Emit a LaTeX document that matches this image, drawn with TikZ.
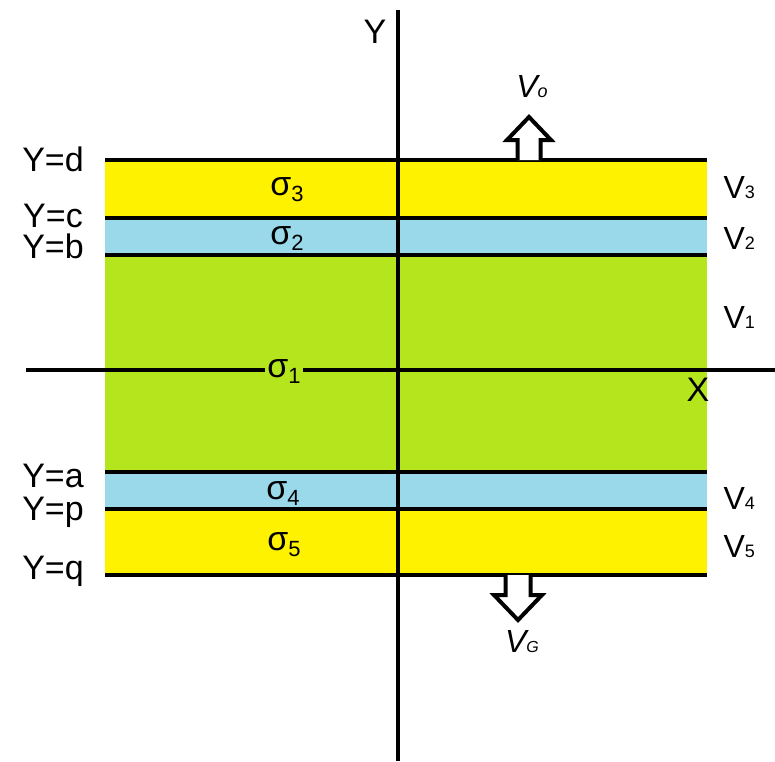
\documentclass[tikz,border=0pt]{standalone}
\usepackage{fontspec}
\setmainfont{Liberation Sans}
\usetikzlibrary{calc}
\definecolor{layyellow}{RGB}{255,242,0}
\definecolor{layblue}{RGB}{153,217,234}
\definecolor{laygreen}{RGB}{181,230,29}
\newcommand{\lowsub}[2]{#1\raisebox{-6pt}{\fontsize{22}{22}\selectfont #2}}
\newcommand{\vsub}[1]{V{\fontsize{18}{18}\selectfont #1}}

\begin{document}
\begin{tikzpicture}[x=1pt, y=-1pt,
    bound/.style={line width=4.5pt},
    axis/.style={line width=4.5pt},
    ylab/.style={font=\fontsize{34}{34}\selectfont, inner sep=1pt},
    sig/.style={font=\fontsize{34}{34}\selectfont, inner sep=2pt},
    vlab/.style={font=\fontsize{32}{32}\selectfont, anchor=west},
    blockarrow/.style={line width=4pt, fill=white, line join=miter}]
    \useasboundingbox (0,0) rectangle (775,761);

    % Layers
    \foreach \t/\b/\c in {160/218/layyellow, 218/255/layblue, 255/472/laygreen,
                          472/509/layblue, 509/575/layyellow} {
      \fill[\c] (105,\t) rectangle (707,\b);
    }
    % Boundaries
    \foreach \y in {160, 218, 255, 472, 509, 575} {
      \draw[bound] (105,\y) -- (707,\y);
    }

    % Axes
    \coordinate (xs) at (26,370);
    \coordinate (xe) at (775,370);
    \coordinate (ys) at (398,10);
    \coordinate (ye) at (398,761);
    \draw[axis] (xs) -- (xe);
    \draw[axis] (ys) -- (ye);
    \node[ylab] (ylabel) at (375,32) {Y};
    \node[ylab] (xlabel) at (698,390) {X};

    % Boundary labels
    \foreach \y/\lab in {159/d, 216/c, 246/b, 476/a, 512/p, 571/q} {
      \node[ylab] (y\lab) at (53,\y) {Y=\lab};
    }

    % Conductivities
    \node[sig] (s3) at (287,190) {\lowsub{σ}{3}};
    \node[sig] (s2) at (287,239) {\lowsub{σ}{2}};
    \node[sig, fill=laygreen] (s1) at (284,372) {\lowsub{σ}{1}};
    \node[sig] (s4) at (283,494) {\lowsub{σ}{4}};
    \node[sig] (s5) at (284,545) {\lowsub{σ}{5}};

    % Potentials
    \foreach \n/\y in {3/188, 2/238, 1/317, 4/498, 5/547} {
      \node[vlab] (v\n) at (720,\y) {\vsub{\n}};
    }

    % Electrodes
    \coordinate (top) at (529,160);
    \coordinate (bot) at (518,575);
    \draw[blockarrow] ($(top)+(-11.5,0)$) -- ++(0,-20) -- ++(-10.5,0)
      -- ++(22,-23) -- ++(22,23) -- ++(-10.5,0) -- ++(0,20);
    \draw[blockarrow] ($(bot)+(-12.5,0)$) -- ++(0,20) -- ++(-11.5,0)
      -- ++(24,25) -- ++(24,-25) -- ++(-11.5,0) -- ++(0,-20);
    \node[font=\fontsize{32}{32}\itshape\selectfont] (vo) at (532,87)
      {V{\fontsize{18}{18}\selectfont o}};
    \node[font=\fontsize{32}{32}\itshape\selectfont] (vg) at (522,642)
      {V{\fontsize{16}{16}\selectfont G}};
\end{tikzpicture}
\end{document}
